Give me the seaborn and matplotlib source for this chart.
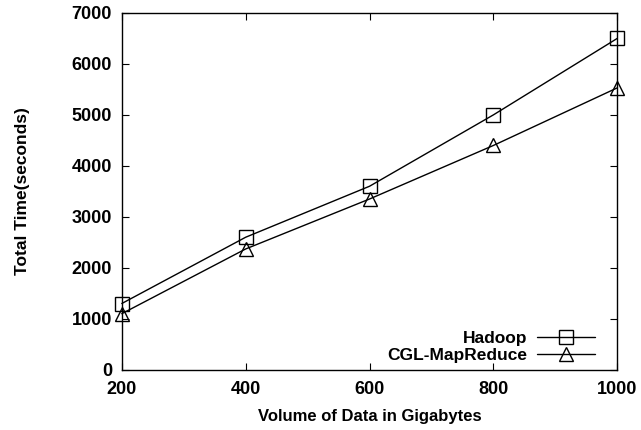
import pandas as pd
import seaborn as sns
import matplotlib
matplotlib.use("Agg")
import matplotlib.pyplot as plt

volume = [200, 400, 600, 800, 1000]
hadoop = [1300, 2600, 3600, 5000, 6500]
cgl = [1100, 2370, 3350, 4400, 5530]

def main():
    df = pd.DataFrame({
        "volume": volume * 2,
        "time": hadoop + cgl,
        "series": ["Hadoop"] * len(volume) + ["CGL-MapReduce"] * len(volume),
    })

    sns.set_style("ticks")
    plt.rcParams["font.family"] = ["Liberation Sans", "DejaVu Sans"]
    plt.rcParams["font.weight"] = "bold"
    plt.rcParams["text.color"] = "black"
    plt.rcParams["axes.labelcolor"] = "black"
    plt.rcParams["xtick.color"] = "black"
    plt.rcParams["ytick.color"] = "black"
    plt.rcParams["axes.edgecolor"] = "black"

    fig, ax = plt.subplots(figsize=(6.41, 4.30), dpi=100)
    sns.lineplot(data=df, x="volume", y="time", hue="series", style="series",
                 markers={"Hadoop": "s", "CGL-MapReduce": "^"}, dashes=False,
                 palette={"Hadoop": "black", "CGL-MapReduce": "black"},
                 markersize=10, markerfacecolor="none", markeredgecolor="black",
                 markeredgewidth=1.0, linewidth=1.0, ax=ax, clip_on=False)

    ax.set_xlim(200, 1000)
    ax.set_ylim(0, 7000)
    ax.set_xticks(volume)
    ax.set_yticks(range(0, 7001, 1000))
    ax.tick_params(direction="in", top=True, right=True, labelsize=13, length=5, width=0.8)
    ax.tick_params(axis="x", pad=8)
    ax.tick_params(axis="y", pad=7)
    for lab in ax.get_xticklabels() + ax.get_yticklabels():
        lab.set_fontweight("bold")
    for s in ax.spines.values():
        s.set_visible(True)
        s.set_linewidth(1.0)
    ax.set_xlabel("Volume of Data in Gigabytes", fontsize=12, fontweight="bold", labelpad=8)
    ax.set_ylabel("Total Time(seconds)", fontsize=12.5, fontweight="bold", labelpad=30)

    leg = ax.legend(loc="lower right", bbox_to_anchor=(0.9556, 0.018), frameon=False,
                    markerfirst=False, handlelength=3.35, fontsize=12.5, borderaxespad=0,
                    borderpad=0, labelspacing=0.1, handletextpad=0.55)
    for t in leg.get_texts():
        t.set_fontweight("bold")
    for h in leg.legend_handles:
        h.set_markerfacecolor("none")
        h.set_markeredgecolor("black")
        h.set_color("black")

    fig.subplots_adjust(left=0.19, right=0.963, top=0.97, bottom=0.14)
    fig.savefig("out.png", dpi=100)

if __name__ == "__main__":
    main()
